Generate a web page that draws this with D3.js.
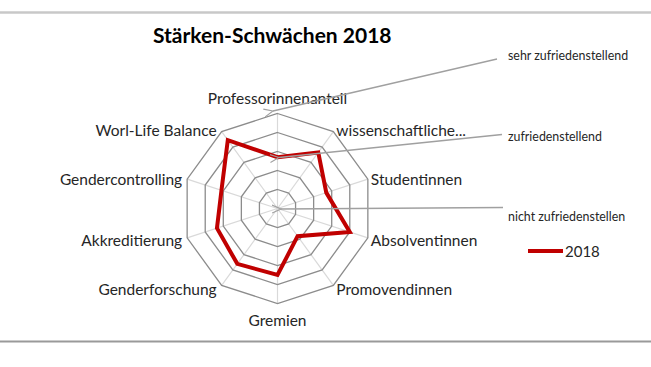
<!DOCTYPE html>
<html><head><meta charset="utf-8">
<script src="https://cdn.jsdelivr.net/npm/d3@7/dist/d3.min.js"></script>
<style>
html,body{margin:0;padding:0;background:#fff;}
svg{display:block;}
</style></head>
<body><svg id="c" width="651" height="367"></svg>
<script>
// ---- data ----
const categories = ["Professorinnenanteil","wissenschaftliche...","Studentinnen","Absolventinnen","Promovendinnen","Gremien","Genderforschung","Akkreditierung","Gendercontrolling","Worl-Life Balance"];
const values2018 = [2.7, 3.65, 2.7, 4.0, 1.8, 3.5, 3.6, 3.35, 3.1, 4.45];
const ringTicks = [1, 2, 3, 4, 5];
const seriesName = "2018";
const titleText = "Stärken-Schwächen 2018";
const annotationLabels = ["sehr zufriedenstellend", "zufriedenstellend", "nicht zufriedenstellen"];

// ---- layout ----
const svg = d3.select("#c");
const cx = 277.5, cy = 208.5, R = 95;
const r = d3.scaleLinear().domain([0, 5]).range([0, R]);
const n = categories.length;
const ang = i => i * 2 * Math.PI / n;
const pt = (i, v) => [cx + r(v) * Math.sin(ang(i)), cy - r(v) * Math.cos(ang(i))];
const font = "Lato, 'Open Sans', sans-serif";

// frame lines
svg.append("line").attr("x1", 0).attr("x2", 651).attr("y1", 12.5).attr("y2", 12.5)
  .attr("stroke", "#c8c8c8").attr("stroke-width", 2.5);
svg.append("line").attr("x1", 0).attr("x2", 651).attr("y1", 341.5).attr("y2", 341.5)
  .attr("stroke", "#9a9a9a").attr("stroke-width", 2);

// title
svg.append("text").attr("x", 153).attr("y", 43).text(titleText)
  .attr("font-family", font).attr("font-weight", "bold").attr("font-size", 21).attr("fill", "#000");

const g = svg.append("g").attr("transform", `translate(${cx},${cy})`);

// spokes
g.selectAll("line.spoke").data(categories).join("line").attr("class", "spoke")
  .attr("x1", 0).attr("y1", 0)
  .attr("x2", (d, i) => r(5) * Math.sin(ang(i)))
  .attr("y2", (d, i) => -r(5) * Math.cos(ang(i)))
  .attr("stroke", "#d9d9d9").attr("stroke-width", 1.2);

// rings
const ringLine = d3.lineRadial().curve(d3.curveLinearClosed);
g.selectAll("path.ring").data(ringTicks).join("path").attr("class", "ring")
  .attr("d", t => ringLine(categories.map((c, i) => [ang(i), r(t)])))
  .attr("fill", "none").attr("stroke", "#8c8c8c").attr("stroke-width", 1.3);

// series
const seriesLine = d3.lineRadial().angle((d, i) => ang(i)).radius(d => r(d)).curve(d3.curveLinearClosed);
g.append("path").attr("d", seriesLine(values2018))
  .attr("fill", "none").attr("stroke", "#c00000").attr("stroke-width", 4).attr("stroke-linejoin", "miter");

// category labels
categories.forEach((c, i) => {
  const [vx, vy] = pt(i, 5);
  const s = Math.sin(ang(i)), co = Math.cos(ang(i));
  let anchor, x, y;
  if (Math.abs(s) < 0.01) {
    anchor = "middle"; x = vx; y = vy - co * 16 + 1;
  } else {
    anchor = s > 0 ? "start" : "end";
    x = vx + (s > 0 ? 3 : -5);
    y = vy - co * 3 + 1.5;
  }
  svg.append("text").attr("x", x).attr("y", y).attr("dy", "0.35em")
    .attr("text-anchor", anchor).text(c)
    .attr("font-family", font).attr("font-size", 15.5).attr("fill", "#262626");
});

// arrow marker
const defs = svg.append("defs");
defs.append("marker").attr("id", "arr").attr("viewBox", "0 0 10 10")
  .attr("refX", 1).attr("refY", 5).attr("markerWidth", 10).attr("markerHeight", 10)
  .attr("markerUnits", "userSpaceOnUse").attr("orient", "auto-start-reverse")
  .append("path").attr("d", "M10,1 L1,5 L10,9").attr("fill", "none")
  .attr("stroke", "#a0a0a0").attr("stroke-width", 1.1);

// annotations (text + arrow to chart)
const annFrom = [[497, 59], [502, 134.5], [503, 207.5]];
const annTo = [[273, 111], [279, 157.5], [281, 209]];
const annTextY = [60, 141, 221];
annotationLabels.forEach((t, k) => {
  svg.append("line").attr("x1", annTo[k][0]).attr("y1", annTo[k][1])
    .attr("x2", annFrom[k][0]).attr("y2", annFrom[k][1])
    .attr("stroke", "#a0a0a0").attr("stroke-width", 1.3)
    .attr("marker-start", "url(#arr)");
  svg.append("text").attr("x", 508).attr("y", annTextY[k]).text(t)
    .attr("font-family", font).attr("font-size", 12.4).attr("fill", "#262626");
});

// legend
svg.append("line").attr("x1", 528).attr("x2", 563).attr("y1", 251).attr("y2", 251)
  .attr("stroke", "#c00000").attr("stroke-width", 4);
svg.append("text").attr("x", 565).attr("y", 256.5).text(seriesName)
  .attr("font-family", font).attr("font-size", 15).attr("fill", "#262626");
</script></body></html>
